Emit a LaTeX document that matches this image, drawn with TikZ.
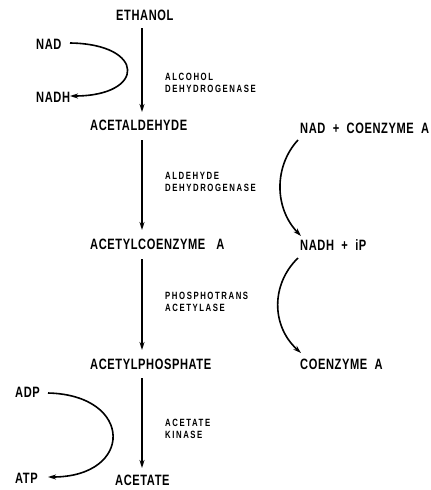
\documentclass[tikz,border=0pt]{standalone}
\usepackage{fontspec}
\setmainfont{Liberation Sans}[FakeStretch=0.74]
\usetikzlibrary{arrows.meta}
\begin{document}
\begin{tikzpicture}[x=1pt,y=-1pt,
  compound/.style={anchor=west,inner sep=0pt,font=\fontsize{15}{16}\selectfont\bfseries\addfontfeatures{LetterSpace=4}},
  enzyme/.style={anchor=west,inner sep=0pt,align=left,font=\fontsize{10.5}{12.5}\selectfont\bfseries\addfontfeatures{LetterSpace=15}},
  rxn/.style={line width=1.7pt,-{Stealth[length=8pt,width=5pt]}},
  side/.style={line width=1.6pt,-{Stealth[length=8pt,width=5pt]}}]
\useasboundingbox (0,0) rectangle (431,490);
\clip (0,0) rectangle (431,490);
% compounds
\node[compound] (eth) at (116,15) {ETHANOL};
\node[compound] (ald) at (90,125) {ACETALDEHYDE};
\node[compound] (acoa) at (90,244) {ACETYLCOENZYME\ \ \ A};
\node[compound] (aph) at (90,364) {ACETYLPHOSPHATE};
\node[compound] (ace) at (115,480) {ACETATE};
% cofactors left
\node[compound] (nad) at (36,44) {NAD};
\node[compound] (nadh) at (36,97) {NADH};
\node[compound] (adp) at (15,392) {ADP};
\node[compound] (atp) at (15,478) {ATP};
% right side
\node[compound] (nadco) at (300,128) {NAD\ \ +\ \ COENZYME\ \ A};
\node[compound] (nadhp) at (300,245) {NADH\ \ +\ \ iP};
\node[compound] (coa) at (300,364) {COENZYME\ \ A};
% enzymes
\node[enzyme] (e1) at (165,83) {ALCOHOL\\DEHYDROGENASE};
\node[enzyme] (e2) at (165,182) {ALDEHYDE\\DEHYDROGENASE};
\node[enzyme] (e3) at (165,302) {PHOSPHOTRANS\\ACETYLASE};
\node[enzyme] (e4) at (165,429) {ACETATE\\KINASE};
% main arrows
\coordinate (a1s) at (142,28); \coordinate (a1e) at (142,112);
\coordinate (a2s) at (142,140); \coordinate (a2e) at (142,230);
\coordinate (a3s) at (142,259); \coordinate (a3e) at (142,350);
\coordinate (a4s) at (142,378); \coordinate (a4e) at (142,468);
\draw[rxn] (a1s) -- (a1e);
\draw[rxn] (a2s) -- (a2e);
\draw[rxn] (a3s) -- (a3e);
\draw[rxn] (a4s) -- (a4e);
% side curves
\coordinate (c1s) at (70,43); \coordinate (c1e) at (70,96);
\draw[side] (c1s) .. controls (146,44) and (146,96) .. (c1e);
\coordinate (c4s) at (48,393); \coordinate (c4e) at (48,477);
\draw[side] (c4s) .. controls (134,395) and (134,477) .. (c4e);
\coordinate (c2s) at (298,140); \coordinate (c2e) at (301,236);
\draw[side] (c2s) .. controls (274,166) and (274,208) .. (c2e);
\coordinate (c3s) at (298,258); \coordinate (c3e) at (301,353);
\draw[side] (c3s) .. controls (271,284) and (271,326) .. (c3e);
\end{tikzpicture}
\end{document}
